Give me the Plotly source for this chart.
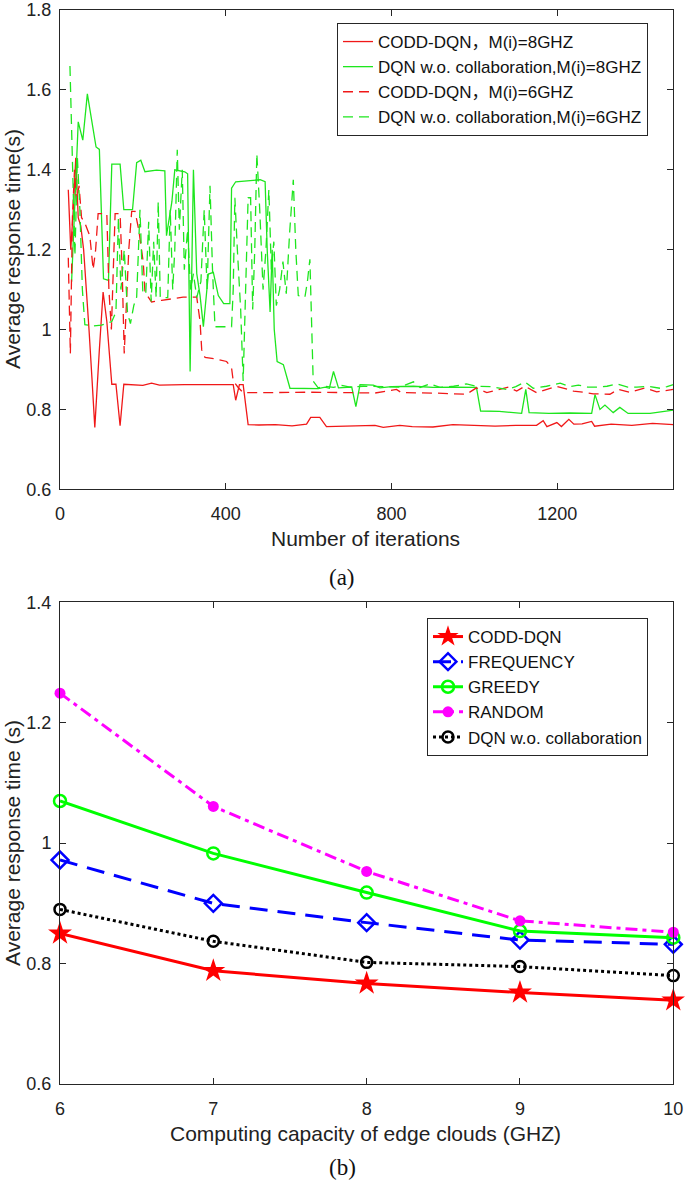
import plotly.graph_objects as go

W, H = 685, 1191

# ---------------- (a) data ----------------
codd8_x = [20, 26, 32, 38, 44, 50, 57, 64, 70, 77, 84, 95, 104, 113, 125, 135, 145, 154, 180, 200, 221, 240, 300, 350,
           418, 424, 433, 442, 454, 480, 520, 560, 595, 605, 627, 643, 700, 760, 780, 820, 850, 900, 948, 1000, 1050,
           1100, 1150, 1166, 1175, 1199, 1210, 1228, 1240, 1260, 1283, 1290, 1330, 1380, 1430, 1480]
codd8_y = [1.35, 1.2, 1.3, 1.43, 1.28, 1.26, 1.2, 1.1, 1.0, 0.88, 0.755, 0.95, 1.094, 1.02, 0.863, 0.863, 0.759, 0.863,
           0.862, 0.860, 0.866, 0.861, 0.862, 0.862, 0.862, 0.823, 0.862, 0.862, 0.762, 0.761, 0.762, 0.759, 0.763,
           0.780, 0.780, 0.757, 0.759, 0.760, 0.755, 0.760, 0.757, 0.756, 0.762, 0.760, 0.758, 0.760, 0.760, 0.772,
           0.757, 0.767, 0.757, 0.775, 0.763, 0.764, 0.770, 0.758, 0.763, 0.760, 0.765, 0.762]

dqn8_x = [28, 44, 55, 66, 87, 95, 105, 117, 125, 145, 154, 175, 185, 195, 205, 233, 253, 257, 270, 277, 301, 308, 314,
          322, 330, 338, 346, 358, 370, 382, 395, 410, 414, 424, 483, 495, 500, 507, 512, 517, 524, 539, 555, 600, 623,
          640, 650, 660, 672, 704, 714, 724, 756, 772, 800, 853, 900, 950, 1005, 1015, 1060, 1114, 1124, 1132, 1180,
          1230, 1283, 1291, 1303, 1315, 1335, 1351, 1371, 1424, 1480]
dqn8_y = [1.12, 1.52, 1.474, 1.59, 1.457, 1.451, 1.127, 1.123, 1.414, 1.414, 1.30, 1.30, 1.418, 1.424, 1.395, 1.399,
          1.397, 1.235, 1.32, 1.40, 1.395, 1.39, 0.895, 1.40, 1.14, 1.085, 1.007, 1.139, 1.143, 1.085, 1.065, 1.065,
          1.354, 1.37, 1.375, 1.37, 1.2, 1.044, 1.2, 1.0, 0.92, 0.912, 0.853, 0.853, 0.852, 0.856, 0.853, 0.895, 0.854,
          0.856, 0.807, 0.862, 0.861, 0.854, 0.857, 0.858, 0.855, 0.856, 0.855, 0.796, 0.795, 0.790, 0.850, 0.792,
          0.790, 0.791, 0.790, 0.837, 0.800, 0.811, 0.792, 0.805, 0.790, 0.790, 0.798]

codd6_x = [20, 25, 30, 35, 40, 46, 52, 60, 72, 80, 86, 92, 113, 118, 124, 129, 133, 145, 150, 155, 160, 166, 173, 181,
           190, 201, 205, 221, 245, 270, 297, 330, 338, 342, 350, 374, 402, 414, 418, 430, 442, 500, 600, 700, 760,
           812, 824, 900, 950, 981, 1005, 1030, 1082, 1102, 1122, 1150, 1198, 1239, 1263, 1287, 1327, 1347, 1375,
           1412, 1440, 1480]
codd6_y = [1.18, 0.94, 1.28, 1.40, 1.32, 1.36, 1.28, 1.267, 1.234, 1.15, 1.20, 1.29, 1.29, 1.10, 1.00, 1.20, 1.29,
           1.29, 1.15, 0.94, 1.05, 1.20, 1.296, 1.296, 1.25, 1.168, 1.094, 1.069, 1.073, 1.076, 1.081, 1.081, 1.02,
           0.949, 0.930, 0.927, 0.920, 0.904, 0.871, 0.855, 0.842, 0.842, 0.843, 0.842, 0.841, 0.850, 0.842, 0.841,
           0.840, 0.838, 0.854, 0.842, 0.856, 0.846, 0.858, 0.842, 0.858, 0.846, 0.843, 0.839, 0.838, 0.850, 0.843,
           0.854, 0.844, 0.850]

dqn6_x = [24, 30, 36, 42, 48, 54, 60, 80, 100, 125, 135, 141, 147, 155, 163, 170, 178, 185, 193, 200, 207, 214, 220,
          226, 232, 237, 242, 260, 266, 272, 277, 283, 288, 295, 300, 308, 315, 322, 330, 340, 348, 355, 362, 368, 374,
          395, 414, 418, 422, 428, 436, 442, 448, 454, 460, 465, 470, 475, 482, 490, 497, 504, 510, 516, 522, 530, 538,
          546, 554, 563, 569, 575, 591, 597, 603, 607, 611, 623, 640, 660, 680, 700, 732, 780, 820, 853, 869, 893, 917,
          950, 981, 1005, 1040, 1078, 1100, 1122, 1142, 1174, 1207, 1230, 1251, 1273, 1295, 1320, 1343, 1370, 1392,
          1420, 1448, 1465, 1480]
dqn6_y = [1.66, 1.40, 1.185, 1.43, 1.30, 1.10, 1.012, 1.009, 1.011, 1.02, 1.044, 1.28, 1.10, 1.20, 1.04, 1.015, 1.06,
          1.081, 1.30, 1.09, 1.09, 1.27, 1.07, 1.22, 1.08, 1.32, 1.08, 1.08, 1.30, 1.10, 1.20, 1.45, 1.25, 1.40, 1.15,
          1.25, 1.10, 1.14, 1.08, 1.12, 1.30, 1.10, 1.36, 1.15, 1.007, 1.007, 1.007, 1.10, 1.33, 1.20, 1.05, 0.871,
          1.10, 1.33, 1.33, 1.05, 1.20, 1.44, 1.30, 1.10, 1.20, 1.35, 1.15, 1.22, 1.06, 1.10, 1.17, 1.09, 1.24, 1.375,
          1.20, 1.085, 1.081, 1.12, 1.176, 1.00, 0.871, 0.854, 0.858, 0.855, 0.860, 0.856, 0.858, 0.857, 0.856, 0.869,
          0.855, 0.864, 0.855, 0.858, 0.864, 0.858, 0.857, 0.850, 0.857, 0.869, 0.853, 0.858, 0.866, 0.857, 0.861,
          0.856, 0.856, 0.858, 0.864, 0.856, 0.856, 0.858, 0.853, 0.857, 0.862]

names_a = ["CODD-DQN，M(i)=8GHZ", "DQN w.o. collaboration,M(i)=8GHZ",
           "CODD-DQN，M(i)=6GHZ", "DQN w.o. collaboration,M(i)=6GHZ"]

# ---------------- (b) data ----------------
capacity = [6, 7, 8, 9, 10]
codd_b = [0.850, 0.788, 0.767, 0.752, 0.739]
freq_b = [0.972, 0.900, 0.868, 0.839, 0.832]
greedy_b = [1.070, 0.983, 0.918, 0.854, 0.843]
random_b = [1.249, 1.061, 0.953, 0.871, 0.852]
dqnwo_b = [0.890, 0.837, 0.802, 0.795, 0.780]
names_b = ["CODD-DQN", "FREQUENCY", "GREEDY", "RANDOM", "DQN w.o. collaboration"]

RED = "#f01818"
GREEN = "#1ee61e"
FONT = "Liberation Sans, Arial, Noto Sans CJK SC, sans-serif"
AX = "#262626"

def px(x):
    return x / W

def py(y):
    return 1 - y / H

fig = go.Figure()

top = [(codd8_x, codd8_y, RED, "solid"), (dqn8_x, dqn8_y, GREEN, "solid"),
       (codd6_x, codd6_y, RED, "10px,6px"), (dqn6_x, dqn6_y, GREEN, "10px,6px")]
for (xs, ys, c, d), nm in zip(top, names_a):
    fig.add_trace(go.Scatter(x=xs, y=ys, name=nm, mode="lines",
                             line=dict(color=c, width=1.3, dash=d),
                             xaxis="x", yaxis="y", legend="legend"))

bot = [
    (codd_b, dict(color="#ff0000", width=3, dash="solid"), dict(symbol="star", size=18, color="#ff0000")),
    (freq_b, dict(color="#0000ff", width=3, dash="18px,10px"),
     dict(symbol="diamond-open", size=13, color="#0000ff", line=dict(width=2.5, color="#0000ff"))),
    (greedy_b, dict(color="#00ff00", width=3, dash="solid"),
     dict(symbol="circle-open", size=12, color="#00ff00", line=dict(width=2.5, color="#00ff00"))),
    (random_b, dict(color="#ff00ff", width=3, dash="12px,5px,4px,5px"),
     dict(symbol="circle", size=11, color="#ff00ff")),
    (dqnwo_b, dict(color="#000000", width=3, dash="3px,3px"),
     dict(symbol="circle-open", size=11, color="#000000", line=dict(width=2.5, color="#000000"))),
]
for (ys, ln, mk), nm in zip(bot, names_b):
    fig.add_trace(go.Scatter(x=capacity, y=ys, name=nm, mode="lines+markers",
                             line=ln, marker=mk, cliponaxis=False,
                             xaxis="x2", yaxis="y2", legend="legend2"))

axis_common = dict(showline=True, linecolor=AX, linewidth=1, mirror="ticks", ticks="inside",
                   ticklen=6, tickcolor=AX, tickwidth=1, showgrid=False, zeroline=False,
                   automargin=False, ticklabeloverflow="allow",
                   tickfont=dict(family=FONT, size=18, color="#222222"))

xd = [px(60), px(673.3)]
fig.update_layout(
    width=W, height=H, autosize=False,
    margin=dict(l=0, r=0, t=0, b=0, autoexpand=False),
    paper_bgcolor="white", plot_bgcolor="white",
    xaxis=dict(domain=xd, range=[0, 1480], tickvals=[0, 400, 800, 1200], anchor="y",
               ticklabelstandoff=8, **axis_common),
    yaxis=dict(domain=[py(489.3), py(10)], range=[0.6, 1.8],
               tickvals=[0.6, 0.8, 1.0, 1.2, 1.4, 1.6, 1.8],
               ticktext=["0.6", "0.8", "1", "1.2", "1.4", "1.6", "1.8"], anchor="x",
               ticklabelstandoff=4, **axis_common),
    xaxis2=dict(domain=xd, range=[6, 10], tickvals=capacity, anchor="y2",
                ticklabelstandoff=8, **axis_common),
    yaxis2=dict(domain=[py(1084), py(602.3)], range=[0.6, 1.4],
                tickvals=[0.6, 0.8, 1.0, 1.2, 1.4],
                ticktext=["0.6", "0.8", "1", "1.2", "1.4"], anchor="x2",
                ticklabelstandoff=4, **axis_common),
    legend=dict(x=px(337), y=py(23), xanchor="left", yanchor="top",
                bgcolor="white", bordercolor=AX, borderwidth=1,
                font=dict(family=FONT, size=17, color="#111111"), tracegroupgap=0),
    legend2=dict(x=px(427), y=py(618), xanchor="left", yanchor="top",
                 bgcolor="white", bordercolor=AX, borderwidth=1,
                 font=dict(family=FONT, size=17, color="#111111"), tracegroupgap=0),
    showlegend=True,
)

ann_font = dict(family=FONT, size=21, color="#222222")
annotations = [
    dict(text="Number of iterations", x=px(366), y=py(538), showarrow=False,
         xanchor="center", yanchor="middle", font=ann_font),
    dict(text="Average response time(s)", x=px(12), y=py(249), showarrow=False, textangle=-90,
         xanchor="center", yanchor="middle", font=ann_font),
    dict(text="Computing capacity of edge clouds (GHZ)", x=px(366), y=py(1133), showarrow=False,
         xanchor="center", yanchor="middle", font=ann_font),
    dict(text="Average response time (s)", x=px(12), y=py(843), showarrow=False, textangle=-90,
         xanchor="center", yanchor="middle", font=ann_font),
    dict(text="(a)", x=px(342), y=py(577), showarrow=False, xanchor="center", yanchor="middle",
         font=dict(family="Liberation Serif, DejaVu Serif, serif", size=23, color="#111111")),
    dict(text="(b)", x=px(342), y=py(1167), showarrow=False, xanchor="center", yanchor="middle",
         font=dict(family="Liberation Serif, DejaVu Serif, serif", size=23, color="#111111")),
]
for a in annotations:
    a.update(xref="paper", yref="paper")
fig.update_layout(annotations=annotations)

fig.write_html("out.html", config={"displayModeBar": False},
               post_script="document.body.style.margin='0px';document.body.style.overflow='hidden';")
